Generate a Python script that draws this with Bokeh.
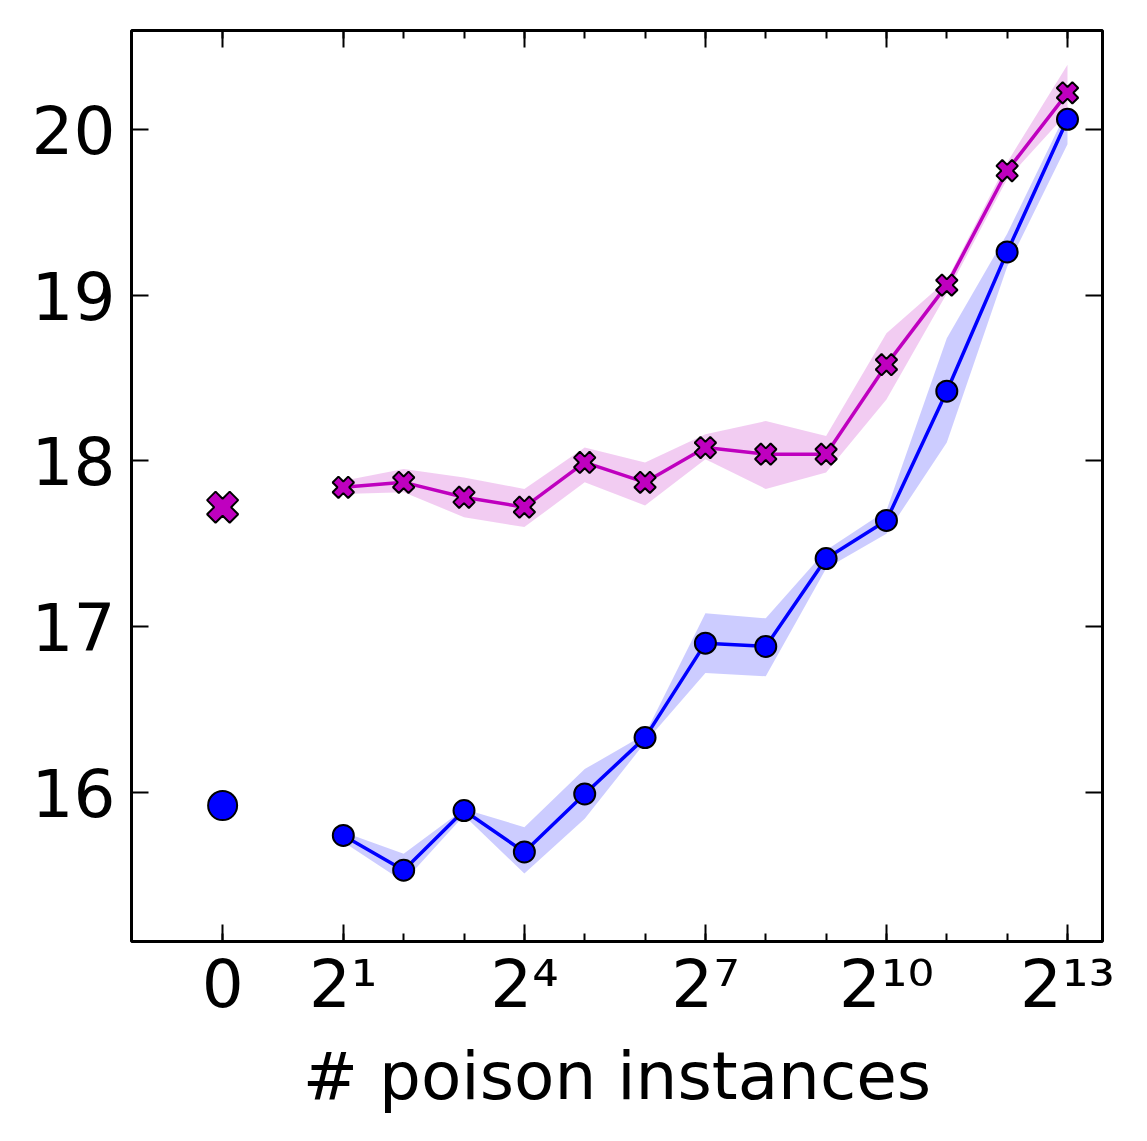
import numpy as np
from bokeh.plotting import figure
from bokeh.models import FixedTicker, LinearAxis, Range1d
from bokeh.embed import file_html
from bokeh.resources import INLINE

# ---- data ----
counts = [2, 4, 8, 16, 32, 64, 128, 256, 512, 1024, 2048, 4096, 8192]
magenta_mean = [17.84, 17.87, 17.78, 17.72, 17.99, 17.87, 18.08, 18.04, 18.04, 18.58, 19.06, 19.75, 20.22]
magenta_lo = [17.80, 17.81, 17.66, 17.60, 17.87, 17.73, 18.01, 17.83, 17.93, 18.37, 19.01, 19.70, 20.10]
magenta_hi = [17.88, 17.95, 17.90, 17.83, 18.08, 17.99, 18.16, 18.24, 18.15, 18.77, 19.09, 19.80, 20.39]
blue_mean = [15.74, 15.53, 15.89, 15.64, 15.99, 16.33, 16.90, 16.88, 17.41, 17.64, 18.42, 19.26, 20.06]
blue_lo = [15.70, 15.46, 15.86, 15.51, 15.84, 16.30, 16.72, 16.70, 17.35, 17.56, 18.11, 19.17, 19.91]
blue_hi = [15.76, 15.63, 15.90, 15.79, 16.14, 16.35, 17.08, 17.05, 17.46, 17.70, 18.74, 19.37, 20.12]
zero_magenta = 17.72
zero_blue = 15.92
zero_pos = -1  # exponent position where the "0" count is drawn
major_exps = [-1, 1, 4, 7, 10, 13]
major_labels = ["0", "2\u00b9", "2\u2074", "2\u2077", "2\u00b9\u2070", "2\u00b9\u00b3"]
y_ticks = [16, 17, 18, 19, 20]
x_label = "# poison instances"

xs = list(np.log2(counts))
minor_exps = [zero_pos] + xs

MAG = "#bf00bf"
BLU = "#0000ff"
FONT = "DejaVu Sans"

p = figure(frame_width=971, frame_height=911,
           x_range=Range1d(-2.51, 13.58), y_range=Range1d(15.10, 20.596),
           output_backend="svg", toolbar_location=None,
           min_border_left=131, min_border_top=30, min_border_right=29, min_border_bottom=184)
p.grid.visible = False
p.background_fill_color = "white"
p.border_fill_color = "white"
p.outline_line_color = "black"
p.outline_line_width = 3

# bands
p.varea(x=xs, y1=magenta_lo, y2=magenta_hi, fill_color=MAG, fill_alpha=0.2)
p.varea(x=xs, y1=blue_lo, y2=blue_hi, fill_color=BLU, fill_alpha=0.2)

# lines
p.line(xs, magenta_mean, line_color=MAG, line_width=3.5)
p.line(xs, blue_mean, line_color=BLU, line_width=3.5)

# markers
p.scatter(xs, magenta_mean, marker="plus", angle=np.pi / 4, size=22,
          fill_color=MAG, line_color="black", line_width=2)
p.scatter([zero_pos], [zero_magenta], marker="plus", angle=np.pi / 4, size=32,
          fill_color=MAG, line_color="black", line_width=2)
p.scatter(xs, blue_mean, marker="circle", size=21,
          fill_color=BLU, line_color="black", line_width=2)
p.scatter([zero_pos], [zero_blue], marker="circle", size=29,
          fill_color=BLU, line_color="black", line_width=2)

# axes
overrides = {e: l for e, l in zip(major_exps, major_labels)}

def style(ax, labels=True):
    ax.axis_line_color = None
    ax.major_tick_in = 17
    ax.major_tick_out = 0
    ax.major_tick_line_width = 2
    ax.major_tick_line_color = "black"
    ax.minor_tick_in = 8
    ax.minor_tick_out = 0
    ax.minor_tick_line_width = 2
    ax.minor_tick_line_color = "black"
    ax.major_label_text_font = FONT
    if labels:
        ax.major_label_text_color = "black"
        ax.major_label_text_font_size = "66px"
    else:
        ax.major_label_text_color = None
        ax.major_label_text_font_size = "0px"
        ax.major_label_standoff = 0

xa = p.xaxis[0]
xa.ticker = FixedTicker(ticks=major_exps, minor_ticks=minor_exps)
xa.major_label_overrides = overrides
style(xa)
xa.major_label_standoff = 4
xa.axis_label = x_label
xa.axis_label_text_font = FONT
xa.axis_label_text_font_size = "66px"
xa.axis_label_text_font_style = "normal"
xa.axis_label_text_color = "black"
xa.axis_label_standoff = 12

ya = p.yaxis[0]
ya.ticker = FixedTicker(ticks=y_ticks, minor_ticks=[])
style(ya)
ya.major_label_standoff = 16

top = LinearAxis(ticker=FixedTicker(ticks=major_exps, minor_ticks=minor_exps))
style(top, labels=False)
p.add_layout(top, "above")

right = LinearAxis(ticker=FixedTicker(ticks=y_ticks, minor_ticks=[]))
style(right, labels=False)
p.add_layout(right, "right")

open("out.html", "w").write(file_html(p, INLINE))
